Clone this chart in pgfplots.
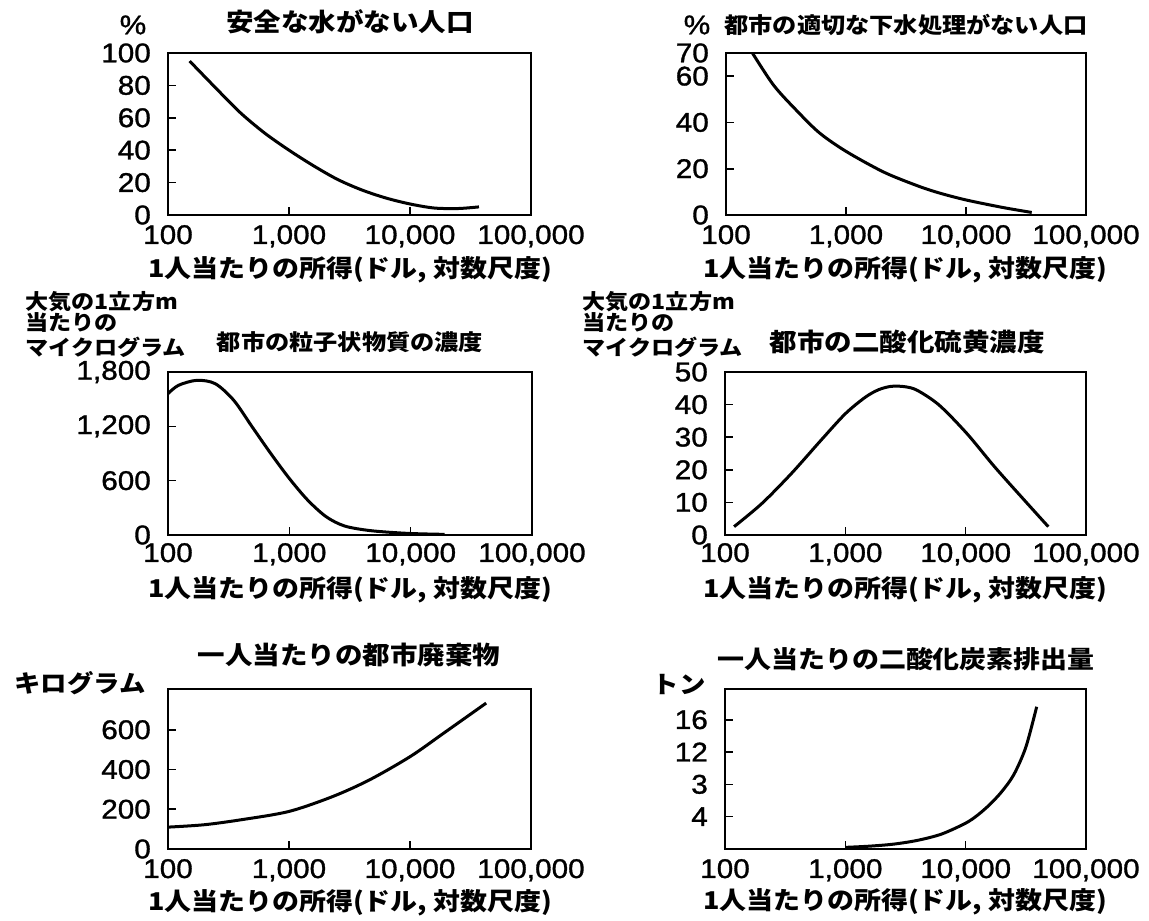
\documentclass[border=0pt]{standalone}
\usepackage{fontspec}
\setmainfont{Noto Sans CJK JP}[FakeStretch=1.1]
\newfontfamily\numfont{Liberation Sans}[FakeStretch=1.1, FakeBold=1.2]
\usepackage{pgfplots}
\pgfplotsset{compat=1.18}
\pgfplotsset{mypanel/.style={
  scale only axis, xmin=100, xmax=100000,
  xtick={100,1000,10000,100000},
  xticklabels={100,{1,000},{10,000},{100,000}},
  xminorticks=false, yminorticks=false,
  tick align=inside, major tick length=8pt, tick pos=left,
  axis line style={line width=1.6pt},
  every tick/.style={line width=1.6pt, black},
  ticklabel style={font=\numfont\fontsize{27}{27}\selectfont, inner sep=0pt},
  xticklabel style={anchor=base, yshift=-29pt},
  yticklabel style={anchor=east, xshift=-17pt},
},
curve/.style={black, line width=3pt, smooth, no marks}}
\newcommand{\tfont}{\bfseries\fontsize{25}{25}\selectfont}
\newcommand{\tsfont}{\bfseries\fontsize{22}{22}\selectfont}
\newcommand{\lfont}{\bfseries\fontsize{24.5}{24.5}\selectfont}
\newcommand{\ufont}{\bfseries\fontsize{21}{21}\selectfont}
\newcommand{\xlab}{1人当たりの所得(ドル, 対数尺度)}
\begin{document}
\begin{tikzpicture}[x=1pt,y=1pt]
\useasboundingbox (0,0) rectangle (1149,921);
% Panel 1
\begin{semilogxaxis}[mypanel, at={(168pt,706pt)}, anchor=south west, width=363pt, height=162pt,
  ymin=0, ymax=100, ytick={0,20,40,60,80,100}, yticklabels={0,20,40,60,80,100}]
\addplot[curve] coordinates {(151,95) (251,78) (398,63) (631,50.5) (1000,40) (1585,30.5) (2512,22) (3981,15.5) (6310,10.5) (10000,6.8) (15849,4.3) (25119,4.0) (37154,5.0)};
\end{semilogxaxis}
\node[font=\numfont\fontsize{27}{27}\selectfont] at (133,896) {\%};
\node[font=\tfont] at (350,899) {安全な水がない人口};
\node[font=\lfont] at (350,651) {\xlab};
% Panel 2
\begin{semilogxaxis}[mypanel, at={(726pt,706pt)}, anchor=south west, width=360pt, height=162pt,
  ymin=0, ymax=70, ytick={0,20,40,60,70}, yticklabels={0,20,40,60,70}]
\addplot[curve] coordinates {(166,70) (250,56) (390,45) (600,35.5) (1000,27.5) (2070,18.5) (4000,12.5) (6000,9.5) (10000,6.5) (20000,3.3) (35300,1.1)};
\end{semilogxaxis}
\node[font=\numfont\fontsize{27}{27}\selectfont] at (697,896) {\%};
\node[font=\tsfont] at (906,896) {都市の適切な下水処理がない人口};
\node[font=\lfont] at (905,651) {\xlab};
% Panel 3
\begin{semilogxaxis}[mypanel, at={(168pt,386pt)}, anchor=south west, width=364pt, height=163pt,
  ymin=0, ymax=1800, ytick={0,600,1200,1800}, yticklabels={0,600,{1,200},{1,800}},
  xticklabel style={yshift=2pt}]
\addplot[curve] coordinates {(100,1561) (122,1653) (173,1708) (245,1671) (348,1488) (494,1194) (703,900) (1000,624) (1415,386) (2010,202) (2860,99) (4670,48) (9400,18) (19000,7)};
\end{semilogxaxis}
\node[font=\ufont, anchor=west] at (22,619) {大気の1立方m};
\node[font=\ufont, anchor=west] at (22,598) {当たりの};
\node[font=\ufont, anchor=west] at (22,574) {マイクログラム};
\node[font=\tsfont] at (350,579) {都市の粒子状物質の濃度};
\node[font=\lfont] at (350,331) {\xlab};
% Panel 4
\begin{semilogxaxis}[mypanel, at={(725pt,386pt)}, anchor=south west, width=361pt, height=163pt,
  ymin=0, ymax=50, ytick={0,10,20,30,40,50}, yticklabels={0,10,20,30,40,50},
  xticklabel style={yshift=2pt}]
\addplot[curve] coordinates {(119,2.55) (203,9.7) (357,18.9) (629,29.1) (1000,37.2) (1470,42.3) (1900,44.6) (2410,45.6) (3100,45.5) (3950,44.4) (6040,39.8) (10250,31.1) (17400,20.9) (30700,10.7) (48600,2.55)};
\end{semilogxaxis}
\node[font=\ufont, anchor=west] at (579,619) {大気の1立方m};
\node[font=\ufont, anchor=west] at (579,598) {当たりの};
\node[font=\ufont, anchor=west] at (579,574) {マイクログラム};
\node[font=\tfont] at (907,579) {都市の二酸化硫黄濃度};
\node[font=\lfont] at (905,331) {\xlab};
% Panel 5
\begin{semilogxaxis}[mypanel, at={(168pt,72pt)}, anchor=south west, width=363pt, height=160pt,
  ymin=0, ymax=805, ytick={0,200,400,600}, yticklabels={0,200,400,600}]
\addplot[curve] coordinates {(100,110) (199,122) (401,147) (1000,189) (2320,265) (4670,349) (10100,466) (19000,583) (42600,734)};
\end{semilogxaxis}
\node[font=\tfont] at (349,266) {一人当たりの都市廃棄物};
\node[font=\bfseries\fontsize{24}{24}\selectfont, anchor=west] at (11,238) {キログラム};
\node[font=\lfont] at (350,18) {\xlab};
% Panel 6
\begin{semilogxaxis}[mypanel, at={(725pt,72pt)}, anchor=south west, width=361pt, height=160pt,
  ymin=0, ymax=19.8, ytick={4,8,12,16}, yticklabels={4,3,12,16}]
\addplot[curve] coordinates {(1000,0.2) (1585,0.35) (2512,0.6) (3981,1.07) (6310,1.85) (10000,3.2) (12589,4.2) (15849,5.5) (19953,7.1) (25119,9.2) (31623,12.6) (38905,17.6)};
\end{semilogxaxis}
\node[font=\bfseries\fontsize{24.5}{24.5}\selectfont] at (906,262) {一人当たりの二酸化炭素排出量};
\node[font=\bfseries\fontsize{24}{24}\selectfont] at (679,236) {トン};
\node[font=\lfont] at (905,19) {\xlab};
\end{tikzpicture}
\end{document}
